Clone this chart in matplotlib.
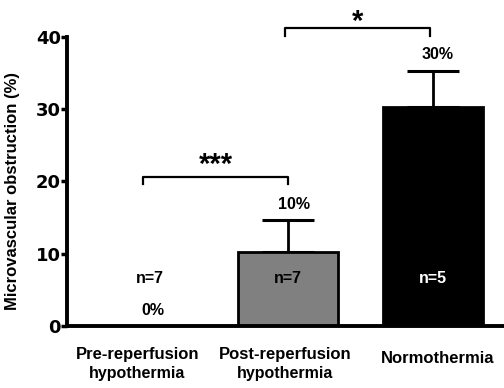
import matplotlib
matplotlib.use("Agg")
import matplotlib.pyplot as plt

categories_line1 = ["Pre-reperfusion", "Post-reperfusion", "Normothermia"]
categories_line2 = ["hypothermia", "hypothermia", ""]
values = [0.0, 10.2, 30.3]
errors = [0.0, 4.5, 5.0]
pct_labels = ["0%", "10%", "30%"]
n_labels = ["n=7", "n=7", "n=5"]
colors = ["white", "#808080", "black"]
n_colors = ["black", "black", "white"]
yticks = [0, 10, 20, 30, 40]

plt.rcParams['font.family'] = ['Liberation Sans', 'DejaVu Sans']
plt.rcParams['font.weight'] = 'bold'

fig = plt.figure(figsize=(5.04, 3.88), dpi=100)
ax = fig.add_axes([0.133, 0.16, 0.867, 0.745])

x = list(range(len(values)))
ax.bar(x, values, width=0.69, color=colors, edgecolor="black", linewidth=2.0, zorder=2)
ax.errorbar(x[1:], values[1:], yerr=[[0, 0], errors[1:]], fmt='none', ecolor='black',
            elinewidth=2.0, capsize=19, capthick=2.2, zorder=1)

ax.set_xlim(-0.524, 2.49)
ax.set_ylim(0, 40)
ax.set_yticks(yticks)
ax.set_yticklabels([str(t) for t in yticks], fontsize=13, fontweight='bold',
                   family='DejaVu Sans')
ax.tick_params(axis='y', length=4, width=2.5, pad=0.5)
ax.set_xticks([])
for s in ['top', 'right']:
    ax.spines[s].set_visible(False)
for s in ['left', 'bottom']:
    ax.spines[s].set_linewidth(2.8)
ax.set_ylabel("Microvascular obstruction (%)", fontsize=12, fontweight='bold')
ax.yaxis.set_label_coords(-0.108, 0.467)

# percentage labels
pct_x_off = [0.07, 0.04, 0.03]
pct_y = [2.2, 16.8, 37.6]
for xi, lab, dx, py in zip(x, pct_labels, pct_x_off, pct_y):
    ax.text(xi + dx, py, lab, ha='center', va='center', fontsize=11.5, fontweight='bold')
# n labels
n_x_off = [0.05, 0.0, 0.0]
for xi, lab, dx, c in zip(x, n_labels, n_x_off, n_colors):
    ax.text(xi + dx, 6.6, lab, ha='center', va='center', fontsize=11.5, fontweight='bold', color=c)

# significance brackets
def bracket(x1, x2, y, h, label, ty):
    ax.plot([x1, x1, x2, x2], [y - h, y, y, y - h], color='black', lw=1.6, clip_on=False)
    ax.text((x1 + x2) / 2, ty, label, ha='center', va='center', fontsize=21, fontweight='bold',
            clip_on=False)

bracket(0.0, 1.0, 20.6, 0.9, "***", 22.3)
bracket(0.98, 1.98, 41.2, 1.1, "*", 42.0)

# category labels
cat_x_off = [-0.04, -0.02, 0.03]
for xi, dx, l1, l2 in zip(x, cat_x_off, categories_line1, categories_line2):
    if l2:
        ax.text(xi + dx, -4.0, l1, ha='center', va='center', fontsize=12, fontweight='bold',
                clip_on=False)
        ax.text(xi + dx, -6.6, l2, ha='center', va='center', fontsize=11.5, fontweight='bold',
                clip_on=False)
    else:
        ax.text(xi + dx, -4.5, l1, ha='center', va='center', fontsize=12, fontweight='bold',
                clip_on=False)

fig.savefig("out.png", dpi=100)
